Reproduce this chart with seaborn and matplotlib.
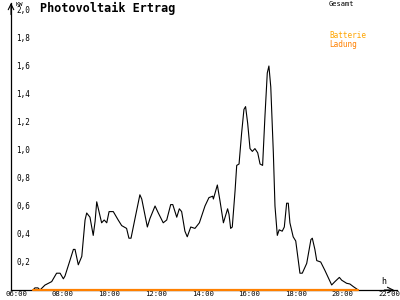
import matplotlib
matplotlib.use("Agg")
import matplotlib.pyplot as plt
import seaborn as sns
import pandas as pd

# Time of day in decimal hours, and total power (kW)
hours = [6.73, 6.81, 6.94, 7.03, 7.24, 7.53, 7.74, 7.89, 8.03, 8.10, 8.31, 8.46, 8.53, 8.67, 8.82,
         8.96, 9.03, 9.17, 9.31, 9.39, 9.46, 9.53, 9.67, 9.78, 9.89, 9.99, 10.17, 10.38, 10.53, 10.74,
         10.84, 10.93, 11.10, 11.31, 11.39, 11.63, 11.74, 11.96, 12.10, 12.31, 12.46, 12.63, 12.72,
         12.89, 13.00, 13.10, 13.24, 13.34, 13.49, 13.67, 13.86, 14.10, 14.27, 14.43, 14.46, 14.63,
         14.74, 14.89, 15.07, 15.13, 15.20, 15.27, 15.39, 15.46, 15.56, 15.67, 15.77, 15.84, 15.93,
         16.03, 16.13, 16.24, 16.36, 16.46, 16.57, 16.67, 16.77, 16.84, 16.92, 17.03, 17.10, 17.20,
         17.28, 17.41, 17.50, 17.60, 17.67, 17.74, 17.88, 17.99, 18.17, 18.27, 18.46, 18.64, 18.70,
         18.81, 18.89, 19.06, 19.24, 19.53, 19.67, 19.86, 19.96, 20.17, 20.31, 20.46, 20.67]
gesamt = [0.0, 0.015, 0.015, 0.0, 0.035, 0.06, 0.12, 0.12, 0.08, 0.10, 0.21, 0.29, 0.29, 0.18, 0.24,
          0.50, 0.55, 0.52, 0.39, 0.49, 0.63, 0.58, 0.48, 0.50, 0.48, 0.56, 0.56, 0.50, 0.46, 0.44,
          0.37, 0.37, 0.51, 0.68, 0.65, 0.45, 0.51, 0.60, 0.55, 0.48, 0.50, 0.61, 0.61,
          0.52, 0.58, 0.56, 0.42, 0.38, 0.45, 0.44, 0.48, 0.60, 0.66, 0.67, 0.65, 0.75,
          0.64, 0.48, 0.58, 0.54, 0.44, 0.45, 0.71, 0.89, 0.90, 1.12, 1.29, 1.31, 1.19,
          1.01, 0.99, 1.01, 0.98, 0.90, 0.89, 1.24, 1.55, 1.60, 1.45, 0.98, 0.60, 0.39,
          0.43, 0.42, 0.45, 0.62, 0.62, 0.48, 0.38, 0.35, 0.12, 0.12, 0.19, 0.36, 0.37,
          0.29, 0.21, 0.20, 0.14, 0.036, 0.06, 0.09, 0.07, 0.048, 0.043, 0.024, 0.0]

# Battery charging (kW)
lade_hours = [6.73, 20.67]
ladung = [0.0, 0.0]

y_ticks = [0.2, 0.4, 0.6, 0.8, 1.0, 1.2, 1.4, 1.6, 1.8, 2.0]
x_ticks = [6, 8, 10, 12, 14, 16, 18, 20, 22]
x_labels = ["06:00", "08:00", "10:00", "12:00", "14:00", "16:00", "18:00", "20:00", "22:00"]

sns.set_style("white")
plt.rcParams['font.family'] = ['DejaVu Sans Mono', 'DejaVu Sans']

df = pd.DataFrame({"h": hours, "kW": gesamt})
df2 = pd.DataFrame({"h": lade_hours, "kW": ladung})

fig = plt.figure(figsize=(4, 3), dpi=100)
ax = fig.add_axes([11 / 400, 10 / 300, 386 / 400, 287 / 300])

sns.lineplot(data=df, x="h", y="kW", color="black", linewidth=0.8, ax=ax)
sns.lineplot(data=df2, x="h", y="kW", color="#ff8000", linewidth=1.6, ax=ax, zorder=5)
for ln in ax.lines:
    ln.set_clip_on(False)

ax.set_xlim(5.786, 22.33)
ax.set_ylim(0, 2.05)
ax.set_xlabel("")
ax.set_ylabel("")

for s in ["top", "right"]:
    ax.spines[s].set_visible(False)
for s in ["left", "bottom"]:
    ax.spines[s].set_color("black")
    ax.spines[s].set_linewidth(0.9)

ax.set_yticks(y_ticks)
ax.set_yticklabels([f"{v:.1f}".replace(".", ",") for v in y_ticks])
ax.set_xticks(x_ticks)
ax.set_xticklabels(x_labels)
ax.tick_params(axis="both", direction="inout", length=5, width=0.8, color="black",
               labelsize=5.5, labelcolor="black")
ax.tick_params(axis="y", pad=-6.5)
ax.tick_params(axis="x", pad=-1.5, labelsize=5.2)
for lab in ax.get_yticklabels():
    lab.set_horizontalalignment("left")

# axis arrows
ax.annotate("", xy=(0, 1.01), xytext=(0, 0.95), xycoords="axes fraction",
            arrowprops=dict(arrowstyle="->", lw=0.8, color="black"), annotation_clip=False)
ax.annotate("", xy=(1.0, 0), xytext=(0.96, 0), xycoords="axes fraction",
            arrowprops=dict(arrowstyle="->", lw=0.8, color="black"), annotation_clip=False)

fig.text(16 / 400, 1 - 4 / 300, "KW", fontsize=4.5, ha="left", va="center", color="black")
fig.text(384 / 400, 1 - 281 / 300, "h", fontsize=6, ha="center", va="center", color="black")

fig.text(40 / 400, 1 - 8 / 300, "Photovoltaik Ertrag", fontsize=8.5, fontweight="bold",
         ha="left", va="center", color="black")
fig.text(329 / 400, 1 - 4 / 300, "Gesamt", fontsize=5, ha="left", va="center", color="black")
fig.text(329 / 400, 1 - 36 / 300, "Batterie", fontsize=5.5, ha="left", va="center", color="#ffa500")
fig.text(329 / 400, 1 - 44 / 300, "Ladung", fontsize=5.5, ha="left", va="center", color="#ff8000")

fig.savefig("out.png", dpi=100, facecolor="white")
